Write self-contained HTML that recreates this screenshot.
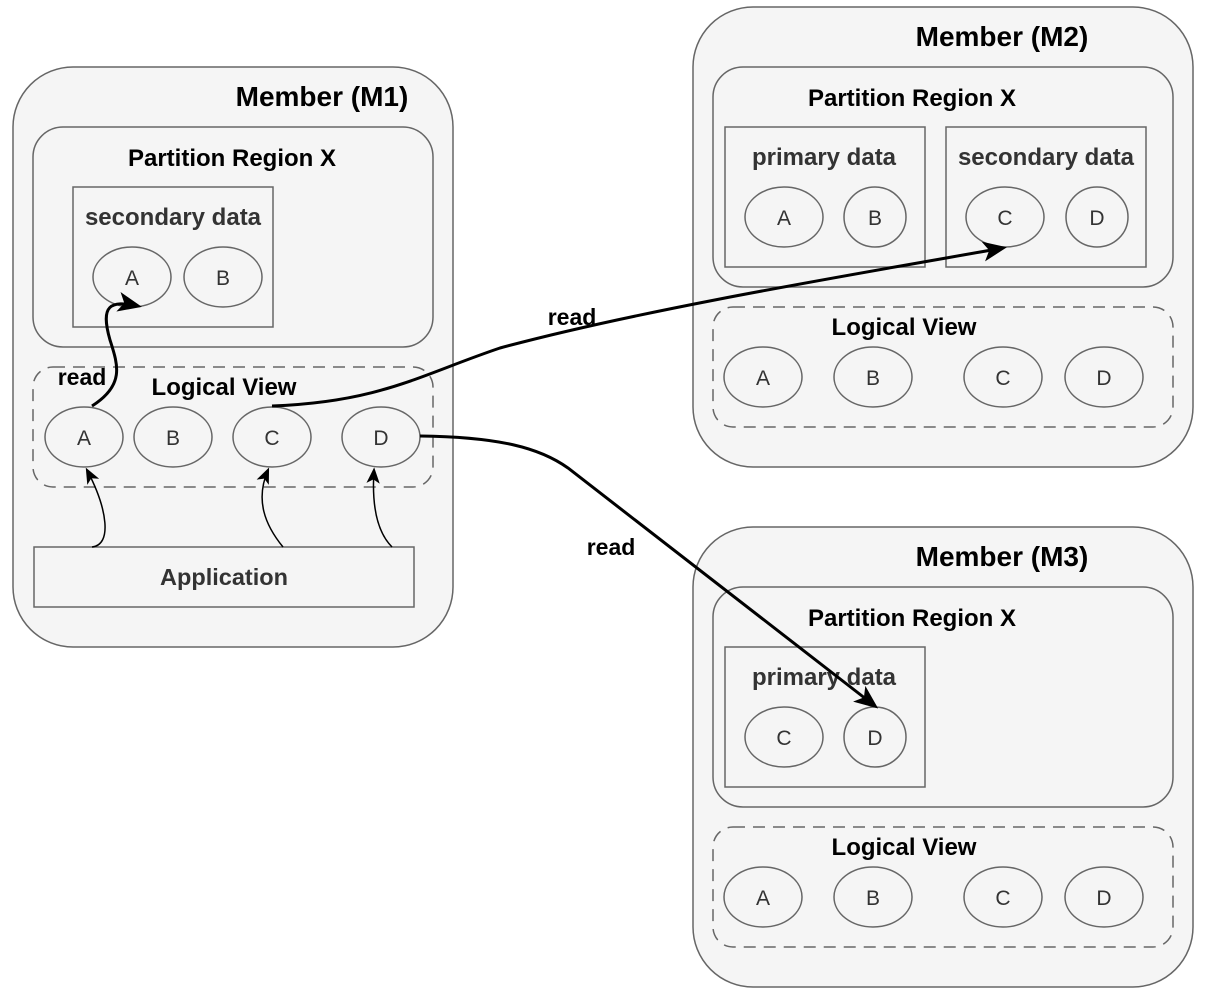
<!DOCTYPE html>
<html><head><meta charset="utf-8"><style>
html,body{margin:0;padding:0;background:#fff;}
svg{display:block;}
text{font-family:"Liberation Sans",Arial,sans-serif;}
.t{font-weight:bold;fill:#000;text-anchor:middle;}
.s{font-weight:bold;fill:#333;text-anchor:middle;}
.e{fill:#333;text-anchor:middle;font-size:21px;}
</style></head><body>
<svg width="1208" height="994" viewBox="0 0 1208 994" xmlns="http://www.w3.org/2000/svg">
<defs>
<marker id="big" viewBox="0 0 12 10" refX="10" refY="5" markerWidth="24" markerHeight="20" orient="auto" markerUnits="userSpaceOnUse"><path d="M0,0 L12,5 L0,10 L3,5 Z" fill="#000"/></marker>
<marker id="sm" viewBox="0 0 12 10" refX="10" refY="5" markerWidth="16" markerHeight="14" orient="auto" markerUnits="userSpaceOnUse"><path d="M0,0 L12,5 L0,10 L3,5 Z" fill="#000"/></marker>
</defs>
<g stroke="#666" stroke-width="1.5" fill="#f5f5f5">
<rect x="13" y="67" width="440" height="580" rx="60"/>
<rect x="33" y="127" width="400" height="220" rx="30"/>
<rect x="73" y="187" width="200" height="140" rx="0"/>
<ellipse cx="132" cy="277" rx="39" ry="30"/>
<ellipse cx="223" cy="277" rx="39" ry="30"/>
<rect x="33" y="367" width="400" height="120" rx="20" stroke-dasharray="12 8"/>
<ellipse cx="84" cy="437" rx="39" ry="30"/>
<ellipse cx="173" cy="437" rx="39" ry="30"/>
<ellipse cx="272" cy="437" rx="39" ry="30"/>
<ellipse cx="381" cy="437" rx="39" ry="30"/>
<rect x="34" y="547" width="380" height="60"/>
<rect x="693" y="7" width="500" height="460" rx="60"/>
<rect x="713" y="67" width="460" height="220" rx="30"/>
<rect x="725" y="127" width="200" height="140"/>
<rect x="946" y="127" width="200" height="140"/>
<ellipse cx="784" cy="217" rx="39" ry="30"/>
<ellipse cx="875" cy="217" rx="31" ry="30"/>
<ellipse cx="1005" cy="217" rx="39" ry="30"/>
<ellipse cx="1097" cy="217" rx="31" ry="30"/>
<rect x="713" y="307" width="460" height="120" rx="20" stroke-dasharray="12 8"/>
<ellipse cx="763" cy="377" rx="39" ry="30"/>
<ellipse cx="873" cy="377" rx="39" ry="30"/>
<ellipse cx="1003" cy="377" rx="39" ry="30"/>
<ellipse cx="1104" cy="377" rx="39" ry="30"/>
<rect x="693" y="527" width="500" height="460" rx="60"/>
<rect x="713" y="587" width="460" height="220" rx="30"/>
<rect x="725" y="647" width="200" height="140"/>
<ellipse cx="784" cy="737" rx="39" ry="30"/>
<ellipse cx="875" cy="737" rx="31" ry="30"/>
<rect x="713" y="827" width="460" height="120" rx="20" stroke-dasharray="12 8"/>
<ellipse cx="763" cy="897" rx="39" ry="30"/>
<ellipse cx="873" cy="897" rx="39" ry="30"/>
<ellipse cx="1003" cy="897" rx="39" ry="30"/>
<ellipse cx="1104" cy="897" rx="39" ry="30"/>
</g>
<text class="t" x="322" y="106" font-size="28">Member (M1)</text>
<text class="t" x="232" y="166" font-size="24">Partition Region X</text>
<text class="s" x="173" y="225" font-size="24">secondary data</text>
<text class="e" x="132" y="285">A</text><text class="e" x="223" y="285">B</text>
<text class="t" x="224" y="395" font-size="24">Logical View</text>
<text class="e" x="84" y="445">A</text><text class="e" x="173" y="445">B</text><text class="e" x="272" y="445">C</text><text class="e" x="381" y="445">D</text>
<text class="s" x="224" y="585" font-size="23.5">Application</text>

<text class="t" x="1002" y="46" font-size="28">Member (M2)</text>
<text class="t" x="912" y="106" font-size="24">Partition Region X</text>
<text class="s" x="824" y="165" font-size="24">primary data</text>
<text class="s" x="1046" y="165" font-size="24">secondary data</text>
<text class="e" x="784" y="225">A</text><text class="e" x="875" y="225">B</text><text class="e" x="1005" y="225">C</text><text class="e" x="1097" y="225">D</text>
<text class="t" x="904" y="335" font-size="24">Logical View</text>
<text class="e" x="763" y="385">A</text><text class="e" x="873" y="385">B</text><text class="e" x="1003" y="385">C</text><text class="e" x="1104" y="385">D</text>

<text class="t" x="1002" y="566" font-size="28">Member (M3)</text>
<text class="t" x="912" y="626" font-size="24">Partition Region X</text>
<text class="s" x="824" y="685" font-size="24">primary data</text>
<text class="e" x="784" y="745">C</text><text class="e" x="875" y="745">D</text>
<text class="t" x="904" y="855" font-size="24">Logical View</text>
<text class="e" x="763" y="905">A</text><text class="e" x="873" y="905">B</text><text class="e" x="1003" y="905">C</text><text class="e" x="1104" y="905">D</text>

<g fill="none" stroke="#000" stroke-width="1.5">
<path d="M92,547 C112,545 108,510 87,470" marker-end="url(#sm)"/>
<path d="M283,547 C265,525 255,500 268,470" marker-end="url(#sm)"/>
<path d="M392,547 C375,530 372,500 374,470" marker-end="url(#sm)"/>
</g>
<g fill="none" stroke="#000" stroke-width="3">
<path d="M92,406 C125,385 118,365 110,340 C100,305 110,300 138,306" marker-end="url(#big)"/>
<path d="M272,406 C380,402 420,375 500,348 C640,310 850,275 1003,248" marker-end="url(#big)"/>
<path d="M420,436 C500,437 540,448 568,468 L875,706" marker-end="url(#big)"/>
</g>
<text class="t" x="82" y="385" font-size="23">read</text>
<text class="t" x="572" y="325" font-size="23">read</text>
<text class="t" x="611" y="555" font-size="23">read</text>
</svg>
</body></html>
